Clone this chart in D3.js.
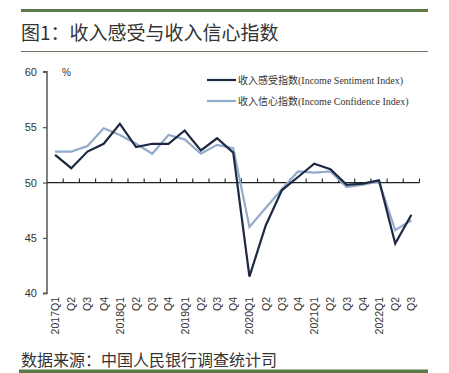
<!DOCTYPE html>
<html>
<head>
<meta charset="utf-8">
<script src="https://cdn.jsdelivr.net/npm/d3@7"></script>
<style>
  body { margin: 0; background: #fff; }
  text { font-family: "Liberation Sans", "Noto Sans CJK SC", sans-serif; fill: #333; }
</style>
</head>
<body>
<script>
// quarters 2017Q1 .. 2022Q3
var quarters = [
  "2017Q1","2017Q2","2017Q3","2017Q4",
  "2018Q1","2018Q2","2018Q3","2018Q4",
  "2019Q1","2019Q2","2019Q3","2019Q4",
  "2020Q1","2020Q2","2020Q3","2020Q4",
  "2021Q1","2021Q2","2021Q3","2021Q4",
  "2022Q1","2022Q2","2022Q3"
];
var tickLabels = [
  "2017Q1","Q2","Q3","Q4","2018Q1","Q2","Q3","Q4",
  "2019Q1","Q2","Q3","Q4","2020Q1","Q2","Q3","Q4",
  "2021Q1","Q2","Q3","Q4","2022Q1","Q2","Q3"
];
var sentiment = [52.5, 51.3, 52.8, 53.5, 55.3, 53.2, 53.5, 53.5, 54.7, 52.9, 54.0, 52.7,
                 41.5, 46.1, 49.3, 50.5, 51.7, 51.2, 49.8, 49.9, 50.2, 44.5, 47.1];
var confidence = [52.8, 52.8, 53.3, 54.9, 54.3, 53.5, 52.6, 54.3, 53.9, 52.6, 53.4, 53.1,
                  46.0, 47.7, 49.4, 51.0, 50.9, 51.0, 49.6, 49.8, 50.1, 45.7, 46.6];
var yTicks = [40, 45, 50, 55, 60];
var seriesNames = ["收入感受指数(Income Sentiment Index)", "收入信心指数(Income Confidence Index)"];
var seriesColors = ["#1d2942", "#93abcb"];

var width = 449, height = 373;
var svg = d3.select("body").append("svg").attr("width", width).attr("height", height);

// header / footer rules
var green = "#5b7a47";
svg.append("rect").attr("x", 21).attr("y", 9).attr("width", 407).attr("height", 3).attr("fill", green);
svg.append("line").attr("x1", 21).attr("x2", 428).attr("y1", 51.5).attr("y2", 51.5)
    .attr("stroke", "#6b7760").attr("stroke-width", 1);
svg.append("rect").attr("x", 19).attr("y", 369.5).attr("width", 409).attr("height", 3.5).attr("fill", green);

svg.append("text").attr("x", 21).attr("y", 40)
    .style("font-family", "'Noto Sans CJK SC', sans-serif").style("font-size", "19px")
    .text("图1：收入感受与收入信心指数");
svg.append("text").attr("x", 21).attr("y", 366)
    .style("font-family", "'Noto Sans CJK SC', sans-serif").style("font-size", "16px")
    .text("数据来源：中国人民银行调查统计司");

var x = d3.scaleBand().domain(quarters).range([47, 419.5]);
var y = d3.scaleLinear().domain([40, 60]).range([293.3, 71.8]);
var cx = function(q) { return x(q) + x.bandwidth() / 2; };

// y axis
var yAxis = svg.append("g").attr("transform", "translate(47,0)")
    .call(d3.axisLeft(y).tickValues(yTicks).tickSize(4).tickPadding(6));
yAxis.select(".domain").attr("stroke", "#555").attr("stroke-width", 1.5).attr("d", "M-4," + y(60) + "H0V" + y(40) + "H-4");
yAxis.selectAll(".tick line").attr("stroke", "#555").attr("stroke-width", 1.2);
yAxis.selectAll(".tick text").style("font-size", "11px").attr("fill", "#444");

svg.append("text").attr("x", 62).attr("y", 76).style("font-size", "10px").attr("fill", "#444").text("%");

// x axis at 50 with ticks on band boundaries
var bounds = quarters.map(function(q) { return x(q); }).concat([x.range()[1]]);
var xg = svg.append("g");
xg.append("line").attr("x1", 47).attr("x2", x.range()[1]).attr("y1", y(50)).attr("y2", y(50))
    .attr("stroke", "#222").attr("stroke-width", 1.3);
xg.selectAll("line.tk").data(bounds.slice(1)).enter().append("line").attr("class", "tk")
    .attr("x1", function(d) { return d; }).attr("x2", function(d) { return d; })
    .attr("y1", y(50)).attr("y2", y(50) - 4)
    .attr("stroke", "#222").attr("stroke-width", 1.1);

// x labels, vertical, below the chart
svg.append("g").selectAll("text").data(quarters).enter().append("text")
    .attr("transform", function(q) { return "translate(" + (cx(q) + 4) + ",297) rotate(-90)"; })
    .attr("text-anchor", "end")
    .style("font-size", "10.5px").attr("fill", "#444")
    .text(function(q, i) { return tickLabels[i]; });

// lines
var line = d3.line().x(function(d, i) { return cx(quarters[i]); }).y(function(d) { return y(d); });
[confidence, sentiment].forEach(function(s, k) {
  svg.append("path").datum(s).attr("d", line).attr("fill", "none")
     .attr("stroke", k === 0 ? seriesColors[1] : seriesColors[0])
     .attr("stroke-width", 2.2).attr("stroke-linejoin", "miter");
});

// legend
var leg = svg.append("g");
seriesNames.forEach(function(n, i) {
  var ly = 80 + i * 21;
  leg.append("line").attr("x1", 207).attr("x2", 236).attr("y1", ly).attr("y2", ly)
     .attr("stroke", seriesColors[i]).attr("stroke-width", 2.2);
  leg.append("text").attr("x", 238).attr("y", ly + 3.5)
     .style("font-family", "'Liberation Serif', 'Noto Sans CJK SC', serif")
     .style("font-size", "10px").attr("fill", "#444").text(n);
});
</script>
</body>
</html>
